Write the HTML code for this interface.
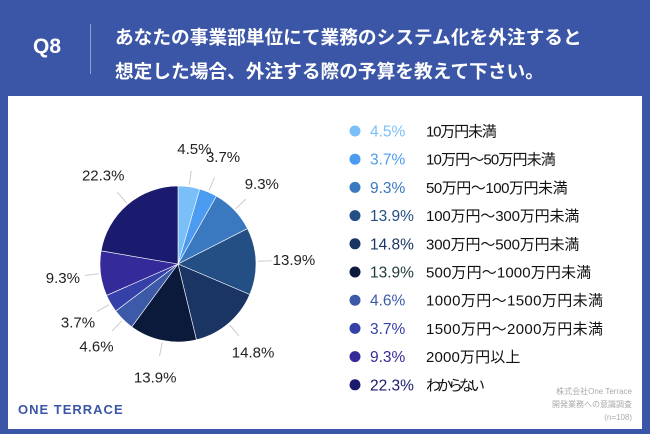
<!DOCTYPE html>
<html><head><meta charset="utf-8">
<style>
body{margin:0;width:650px;height:434px;overflow:hidden;background:#3b56a6;font-family:"Liberation Sans","Noto Sans CJK JP",sans-serif;}
#wrap{position:relative;width:650px;height:434px;}
.t{position:absolute;white-space:nowrap;}
</style></head><body>
<div id="wrap">
<div class="t" style="left:33px;top:35px;color:#fff;font-size:21px;font-weight:bold;">Q8</div>
<div style="position:absolute;left:90px;top:24px;width:1px;height:50px;background:#8fa2d6;"></div>
<div class="t" style="left:115px;top:21px;color:#fff;font-size:18.7px;font-weight:bold;line-height:34px;">あなたの事業部単位にて業務のシステム化を外注すると<br>想定した場合、外注する際の予算を教えて下さい。</div>
<div style="position:absolute;left:8px;top:96px;width:634px;height:333px;background:#fff;"></div>
<svg id="svg" width="650" height="434" style="position:absolute;left:0;top:0"></svg>
<div class="t" style="left:18px;top:402px;color:#3b56a6;font-size:13px;font-weight:bold;letter-spacing:1px;">ONE TERRACE</div>
<div class="t" style="right:18px;top:385px;color:#aaa;font-size:8px;line-height:13px;text-align:right;">株式会社One Terrace<br>開発業務への意識調査<br>(n=108)</div>
</div>
<script>
const categories=["10万円未満","10万円～50万円未満","50万円～100万円未満","100万円～300万円未満","300万円～500万円未満","500万円～1000万円未満","1000万円～1500万円未満","1500万円～2000万円未満","2000万円以上","わからない"];
const values=[4.5,3.7,9.3,13.9,14.8,13.9,4.6,3.7,9.3,22.3];
const labels=["4.5%","3.7%","9.3%","13.9%","14.8%","13.9%","4.6%","3.7%","9.3%","22.3%"];
const colors=["#7abff8","#4b9cf0","#3a78c0","#234f85","#1a3564","#0b1a3a","#3d5aa8","#3540a8","#352a9a","#1a1a6e"];
const pctColors=["#7abff8","#4b9cf0","#3a78c0","#234f85","#1a3564","#1f3a3a","#3d5aa8","#3540a8","#352a9a","#1a1a6e"];
const NS="http://www.w3.org/2000/svg";
const svg=document.getElementById('svg');
const cx=178,cy=264,r=78;
const total=values.reduce((a,b)=>a+b,0);
function pt(a,rr){return [cx+rr*Math.sin(a),cy-rr*Math.cos(a)];}
let a0=0;
values.forEach((v,i)=>{
  const a1=a0+v/total*2*Math.PI;
  const p0=pt(a0,r),p1=pt(a1,r);
  const path=document.createElementNS(NS,'path');
  path.setAttribute('d',`M${cx},${cy}L${p0[0]},${p0[1]}A${r},${r} 0 ${a1-a0>Math.PI?1:0} 1 ${p1[0]},${p1[1]}Z`);
  path.setAttribute('fill',colors[i]);
  path.setAttribute('stroke','#fff');path.setAttribute('stroke-width','0.6');
  
  
  svg.appendChild(path);
  const m=(a0+a1)/2;
  const l0=pt(m,r+2),l1=pt(m,r+16),lt=pt(m,r+38);
  const ln=document.createElementNS(NS,'line');
  ln.setAttribute('x1',l0[0]);ln.setAttribute('y1',l0[1]);ln.setAttribute('x2',l1[0]);ln.setAttribute('y2',l1[1]);
  ln.setAttribute('stroke','#ccc');ln.setAttribute('stroke-width','1');
  
  
  svg.appendChild(ln);
  const tx=document.createElementNS(NS,'text');
  tx.setAttribute('x',lt[0]);tx.setAttribute('y',lt[1]+5);
  tx.setAttribute('text-anchor','middle');tx.setAttribute('font-size','15');tx.setAttribute('fill','#222');
  tx.textContent=labels[i];
  
  
  svg.appendChild(tx);
  a0=a1;
});
categories.forEach((c,i)=>{
  const y=131+i*28.2;
  const d=document.createElementNS(NS,'circle');
  d.setAttribute('cx',355);d.setAttribute('cy',y);d.setAttribute('r',5.5);d.setAttribute('fill',colors[i]);
  
  
  svg.appendChild(d);
  const p=document.createElementNS(NS,'text');
  p.setAttribute('x',370);p.setAttribute('y',y+5.5);p.setAttribute('font-size','15.5');p.setAttribute('fill',pctColors[i]);
  p.textContent=labels[i];
  
  
  svg.appendChild(p);
  const t=document.createElementNS(NS,'text');
  t.setAttribute('x',426);t.setAttribute('y',y+5.5);t.setAttribute('font-size','15');t.setAttribute('fill','#111');
  t.setAttribute('textLength',String(c.length*11.8));
  t.textContent=c;
  
  
  svg.appendChild(t);
});
</script>
</body></html>
